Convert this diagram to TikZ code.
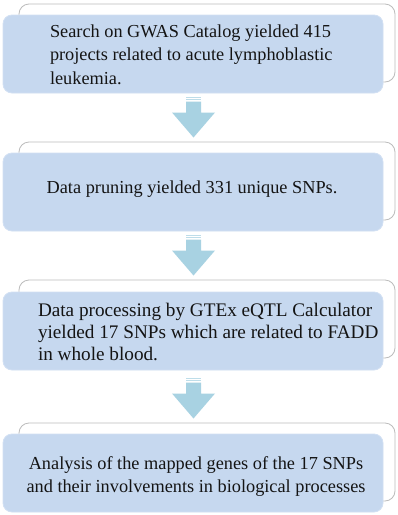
\documentclass[tikz,border=0pt]{standalone}
\usepackage{fontspec}
\setmainfont{Liberation Serif}
\usetikzlibrary{calc}
\definecolor{boxblue}{RGB}{198,216,239}
\definecolor{boxedge}{RGB}{210,224,243}
\definecolor{arrowblue}{RGB}{168,210,226}
\definecolor{framegray}{RGB}{188,188,188}
\definecolor{textcol}{RGB}{20,20,20}
\begin{document}
\begin{tikzpicture}[x=1pt,y=1pt,
  backbox/.style={draw=framegray, line width=0.8pt, fill=white, rounded corners=10pt,
    minimum width=376pt, minimum height=78pt, anchor=north west, inner sep=0pt, outer sep=0pt},
  bluebox/.style={fill=boxblue, draw=boxedge, line width=0.8pt, rounded corners=9pt,
    minimum width=380pt, minimum height=78pt, anchor=north west, inner sep=0pt, outer sep=0pt},
  txt/.style={font=\fontsize{18.3}{23.2}\selectfont, text=textcol, inner sep=0pt, outer sep=0pt},
  bigtxt/.style={font=\fontsize{19.2}{22.2}\selectfont, text=textcol, inner sep=0pt, outer sep=0pt},
  downarrow/.pic={
    \fill[arrowblue!75] (-7.5,0) rectangle (7.5,-1.1);
    \fill[arrowblue!75] (-7.5,-2.2) rectangle (7.5,-3.3);
    \fill[arrowblue] (-7.5,-4.5) -- (7.5,-4.5) -- (7.5,-15.5) -- (21.5,-15.5)
      -- (0,-40.5) -- (-21.5,-15.5) -- (-7.5,-15.5) -- cycle;
  }]
\useasboundingbox (0,0) rectangle (398,-515);
\fill[white] (0,0) rectangle (398,-515);

% box 1
\node[backbox] (w1) at (19,-4) {};
\node[bluebox] (b1) at (3,-15) {};
\node[txt, align=left, anchor=base west] (t1) at (50,-84)
  {Search on GWAS Catalog yielded 415\\projects related to acute lymphoblastic\\leukemia.};

% box 2
\node[backbox] (w2) at (19,-142) {};
\node[bluebox] (b2) at (3,-153) {};
\node[txt, anchor=base] (t2) at (192,-193) {Data pruning yielded 331 unique SNPs.};

% box 3
\node[backbox] (w3) at (19,-280) {};
\node[bluebox] (b3) at (3,-292) {};
\node[bigtxt, align=left, anchor=base west] (t3) at (38,-360.5)
  {Data processing by GTEx eQTL Calculator\\yielded 17 SNPs which are related to FADD\\in whole blood.};

% box 4
\node[backbox] (w4) at (19,-423) {};
\node[bluebox] (b4) at (3,-434) {};
\node[txt, align=center, anchor=base] (t4) at (196,-492.5)
  {Analysis of the mapped genes of the 17 SNPs\\and their involvements in biological processes};

% arrows
\pic at ($(b1.south)+(0.5,-4)$) {downarrow};
\pic at ($(b2.south)+(0.5,-4)$) {downarrow};
\pic at ($(b3.south)+(0.5,-8)$) {downarrow};
\end{tikzpicture}
\end{document}
